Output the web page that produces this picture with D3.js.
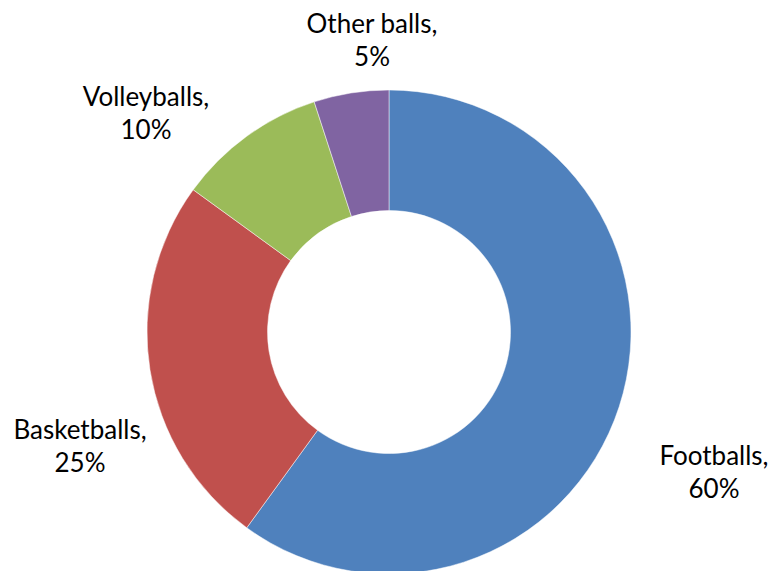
<!DOCTYPE html>
<html>
<head>
<meta charset="utf-8">
<script src="https://cdn.jsdelivr.net/npm/d3@7"></script>
<style>
  html, body { margin: 0; padding: 0; background: #fff; }
  svg { display: block; }
</style>
</head>
<body>
<div id="chart"></div>
<script>
// chart data
const categories = ["Footballs", "Basketballs", "Volleyballs", "Other balls"];
const shares = [60, 25, 10, 5];
const colors = ["#4F81BD", "#C0504D", "#9BBB59", "#8064A2"];

// label layout (centre of each two-line label, relative to chart centre)
const labelPos = [[325, 147], [-309, 121], [-243, -212], [-17, -285]];

document.addEventListener("DOMContentLoaded", function(){

  const widthValue = 777;
  const heightValue = 571;
  const cx = 389, cy = 332;
  const outerR = 242, innerR = 121.5;

  const svg = d3.select("#chart")
                .append("svg")
                .attr("width", widthValue)
                .attr("height", heightValue);

  const g = svg.append("g")
               .attr("transform", `translate(${cx}, ${cy})`);

  const data = categories.map((c, i) => ({ name: c, value: shares[i], color: colors[i] }));

  const pie = d3.pie()
                .sort(null)
                .value(d => d.value);

  const arc = d3.arc()
                .innerRadius(innerR)
                .outerRadius(outerR);

  const arcs = pie(data);

  g.selectAll("path.slice")
    .data(arcs)
    .enter()
    .append("path")
      .attr("class", "slice")
      .attr("d", arc)
      .attr("fill", d => d.data.color)
      .attr("stroke", "rgba(255,255,255,0.6)")
      .attr("stroke-width", 0.8);

  // data labels
  const labels = g.selectAll("text.label")
    .data(arcs)
    .enter()
    .append("text")
      .attr("class", "label")
      .attr("text-anchor", "middle")
      .attr("font-family", "Lato, 'Open Sans', sans-serif")
      .attr("font-size", "26px")
      .attr("fill", "#000")
      .attr("transform", (d, i) => `translate(${labelPos[i][0]}, ${labelPos[i][1]})`);

  labels.append("tspan")
        .attr("x", 0)
        .attr("y", -14)
        .text(d => d.data.name + ",");

  labels.append("tspan")
        .attr("x", 0)
        .attr("y", 19)
        .text(d => d.data.value + "%");
});
</script>
</body>
</html>
